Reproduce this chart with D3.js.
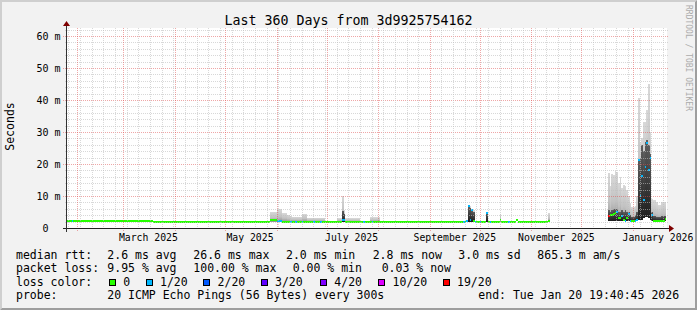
<!DOCTYPE html>
<html lang="en">
<head>
<meta charset="utf-8">
<title>Last 360 Days from 3d9925754162</title>
<script src="https://d3js.org/d3.v7.min.js"></script>
<style>
  body { margin: 0; background: #f2f2f2; }
  svg { display: block; font-family: "DejaVu Sans Mono", monospace; }
</style>
</head>
<body>
<svg width="697" height="310"></svg>
<script>
// ---- values ----
const graphEnd = "2026-01-20T19:40:45";
const spanDays = 360;

// step rows: each one holds from its start until the next row starts
const rowStart = [
  "2025-01-25T19:40", "2025-01-29", "2025-01-30", "2025-03-01", "2025-03-19", "2025-05-28", "2025-06-01", "2025-06-04", "2025-06-07", "2025-06-09",
  "2025-06-10", "2025-06-12", "2025-06-13", "2025-06-16", "2025-06-17", "2025-06-19", "2025-06-23", "2025-06-24", "2025-06-27", "2025-06-28",
  "2025-06-30", "2025-07-07", "2025-07-10T12:00", "2025-07-11T12:00", "2025-07-12", "2025-07-21", "2025-07-23", "2025-07-24", "2025-07-27", "2025-07-28",
  "2025-07-29", "2025-08-02", "2025-09-21", "2025-09-22", "2025-09-23", "2025-09-24", "2025-09-25", "2025-09-26", "2025-09-27", "2025-09-28",
  "2025-09-29", "2025-10-01", "2025-10-02", "2025-10-05", "2025-10-06", "2025-10-07", "2025-10-08", "2025-10-13", "2025-10-14", "2025-10-18",
  "2025-10-19", "2025-10-23", "2025-10-24", "2025-11-11", "2025-11-12", "2025-12-17", "2025-12-18", "2025-12-19", "2025-12-20", "2025-12-21",
  "2025-12-22", "2025-12-23", "2025-12-24", "2025-12-25", "2025-12-26", "2025-12-27", "2025-12-28", "2025-12-29", "2025-12-30", "2025-12-31",
  "2026-01-01", "2026-01-02", "2026-01-03", "2026-01-04", "2026-01-05", "2026-01-06", "2026-01-07", "2026-01-08", "2026-01-09", "2026-01-10",
  "2026-01-11", "2026-01-12", "2026-01-13", "2026-01-14", "2026-01-15", "2026-01-16", "2026-01-17", "2026-01-18", "2026-01-19", "2026-01-20"
];
// median rtt in ms (null = no data)
const medianMs = [
  2.25, 2.25, 2.25, 2.1, 2.0, 2.6, 2.3, 2.0, 2.0, 2.0,
  2.0, 2.0, 2.0, 2.0, 2.0, 2.0, 2.0, 2.0, 2.0, 2.0,
  2.0, 2.0, 2.5, 2.5, 2.0, 2.0, 2.0, 2.0, 2.0, 2.0,
  2.0, 2.0, 2.0, 2.0, 2.2, 6.8, 2.4, 5.7, 2.3, 2.0,
  2.0, 2.0, 2.0, 4.8, 2.0, 2.0, 2.0, 2.6, 2.0, 2.0,
  2.0, 2.5, 2.0, 2.3, null, 3.7, 4.0, 4.1, 4.4, 4.7,
  5.1, 3.0, 3.0, 3.8, 2.4, 2.2, 3.0, 4.4, 2.3, 2.2,
  2.2, 2.3, 2.5, 21.2, 10.0, 16.3, 8.7, 19.0, 26.5, 18.0,
  21.8, 4.0, 2.2, 2.2, 2.2, 2.2, 2.2, 2.2, 2.2, 2.8
];
// lost pings out of 20
const lossOf20 = [
  0, 1, 0, 0, 0, 0, 1, 0, 0, 1,
  0, 1, 0, 1, 0, 0, 1, 0, 1, 0,
  0, 0, 1, 1, 0, 0, 1, 0, 0, 1,
  0, 0, 1, 0, 1, 1, 1, 1, 0, 1,
  0, 1, 0, 1, 0, 1, 0, 0, 0, 1,
  0, 0, 0, 0, null, 19, 0, 0, 0, 0,
  1, 0, 0, 1, 0, 1, 0, 1, 1, 0,
  0, 1, 1, 1, 1, 1, 1, 1, 1, 1,
  1, 1, 0, 0, 0, 0, 0, 0, 0, 0
];
// smoke: fastest ping, top of the dense band, slowest ping (ms)
const smokeMinMs = [
  null, null, null, null, null, 2.0, 2.0, 2.0, 2.0, 2.0,
  2.0, 2.0, 2.0, 2.0, 2.0, 2.0, 2.0, 2.0, 2.0, 2.0,
  null, 2.0, 2.0, 2.0, 2.0, null, null, null, 2.0, 2.0,
  2.0, null, null, null, null, 2.0, 2.0, 2.0, 2.0, null,
  null, null, null, 2.0, null, null, null, 2.0, null, null,
  null, null, null, 2.0, null, 2.3, 2.3, 2.3, 2.3, 2.3,
  2.3, 2.3, 2.3, 2.3, 2.3, 2.2, 2.2, 2.2, 2.2, 2.2,
  2.2, 2.2, 2.2, 2.5, 2.5, 2.5, 3.0, 3.5, 3.5, 3.0,
  2.5, 2.2, 2.2, 2.2, 2.2, 2.2, 2.2, 2.2, 2.2, 2.2
];
const smokeCoreMs = [
  null, null, null, null, null, null, null, null, null, null,
  null, null, null, null, null, null, null, null, null, null,
  null, null, 5.4, 4.5, null, null, null, null, null, null,
  null, null, null, null, null, 6.5, 6.3, 5.5, 5.0, null,
  null, null, null, 4.7, null, null, null, null, null, null,
  null, null, null, null, null, 5.5, 5.0, 5.5, 6.0, 6.0,
  6.0, 5.0, 5.0, 5.5, 5.0, 5.5, 5.0, 5.0, 4.0, 3.5,
  3.5, 4.0, 5.0, 21.5, 22.0, 26.0, 24.0, 27.0, 27.5, 26.0,
  23.0, 5.0, 3.8, 3.8, 3.5, 3.5, 3.5, 3.8, 3.8, 3.8
];
const smokeMaxMs = [
  null, null, null, null, null, 5.1, 5.8, 4.6, 4.1, 3.6,
  3.5, 3.5, 3.5, 4.4, 4.4, 3.2, 3.2, 3.2, 3.2, 3.2,
  null, 3.0, 10.0, 5.5, 3.0, null, null, null, 3.3, 3.3,
  3.3, null, null, null, null, 7.0, 6.8, 5.9, 5.5, null,
  null, null, null, 5.0, null, null, null, 4.3, null, null,
  null, null, null, 4.6, null, 17.3, 13.0, 17.0, 16.5, 17.8,
  17.6, 14.0, 16.0, 12.4, 13.4, 13.0, 11.9, 10.0, 7.7, 6.7,
  6.5, 7.0, 10.0, 40.7, 27.0, 28.0, 33.0, 33.0, 37.0, 45.0,
  30.0, 9.0, 8.7, 8.7, 8.0, 7.2, 7.2, 8.2, 8.2, 8.2
];

const yTicksMs = [0, 10, 20, 30, 40, 50, 60];
const rttStats = ["2.6 ms avg", "26.6 ms max", "2.0 ms min", "2.8 ms now", "3.0 ms sd", "865.3 m am/s"];
const lossStats = ["9.95 % avg", "100.00 % max", "0.00 % min", "0.03 % now"];
const lossSteps = [0, 1, 2, 3, 4, 10, 19];
const lossNames = ["0", "1/20", "2/20", "3/20", "4/20", "10/20", "19/20"];
const lossColors = ["#26ff00", "#00b8ff", "#0059ff", "#5e00ff", "#7e00ff", "#dd00ff", "#ff0000"];
const probeText = "20 ICMP Echo Pings (56 Bytes) every 300s";
const endText = "end: Tue Jan 20 19:40:45 2026";

// ---- drawing ----
const svg = d3.select("svg");
const width = +svg.attr("width");
const height = +svg.attr("height");
const plot = { left: 67, right: 667, top: 28, bottom: 228 };

const toDate = s => new Date(s.length === 10 ? s + "T00:00:00Z" : s + ":00Z");
const end = new Date(graphEnd + "Z");
const start = d3.utcDay.offset(end, -spanDays);

const rows = rowStart.map((s, i) => ({
  t0: toDate(s),
  t1: i + 1 < rowStart.length ? toDate(rowStart[i + 1]) : end,
  med: medianMs[i], loss: lossOf20[i],
  lo: smokeMinMs[i], core: smokeCoreMs[i], hi: smokeMaxMs[i]
})).filter(r => r.med != null);

const x = d3.scaleUtc().domain([start, end]).range([66.5, 666]).clamp(true);
const y = d3.scaleLinear().domain([0, 62.5]).range([plot.bottom, plot.top]);
const lossColor = d3.scaleThreshold().domain(lossSteps.slice(1)).range(lossColors);
const px = t => Math.round(x(t));
const snap = v => Math.round(v) + 0.5;

// background + 3d frame
svg.append("rect").attr("width", width).attr("height", height).attr("fill", "#f2f2f2");
svg.append("polygon")
  .attr("points", `0,0 ${width},0 ${width - 2},2 2,2 2,${height - 2} 0,${height}`)
  .attr("fill", "#cfcfcf");
svg.append("polygon")
  .attr("points", `${width},0 ${width},${height} 0,${height} 2,${height - 2} ${width - 2},${height - 2} ${width - 2},2`)
  .attr("fill", "#9e9e9e");
svg.append("rect")
  .attr("x", plot.left).attr("y", plot.top)
  .attr("width", plot.right - plot.left).attr("height", plot.bottom - plot.top)
  .attr("fill", "#fff");

const defs = svg.append("defs");
const grad = (id, stops) => {
  const g = defs.append("linearGradient").attr("id", id)
    .attr("x1", 0).attr("y1", 0).attr("x2", 0).attr("y2", 1);
  stops.forEach(([o, c]) => g.append("stop").attr("offset", o).attr("stop-color", c));
};
grad("smokeFill", [[0, "#d8d8d8"], [0.6, "#c2c2c2"], [1, "#939393"]]);
grad("coreFill", [[0, "#5e5e5e"], [1, "#1e1e1e"]]);

const dataG = svg.append("g").attr("shape-rendering", "crispEdges");

dataG.selectAll("rect.smoke")
  .data(rows.filter(r => r.hi != null))
  .join("rect")
  .attr("class", "smoke")
  .attr("x", r => px(r.t0))
  .attr("width", r => Math.max(1, px(r.t1) - px(r.t0)))
  .attr("y", r => y(r.hi))
  .attr("height", r => y(r.lo) - y(r.hi))
  .attr("fill", "url(#smokeFill)");

dataG.selectAll("rect.core")
  .data(rows.filter(r => r.core != null))
  .join("rect")
  .attr("class", "core")
  .attr("x", r => px(r.t0))
  .attr("width", r => Math.max(1, px(r.t1) - px(r.t0)))
  .attr("y", r => y(r.core))
  .attr("height", r => y(r.lo) - y(r.core))
  .attr("fill", "url(#coreFill)");

dataG.selectAll("rect.median")
  .data(rows)
  .join("rect")
  .attr("class", "median")
  .attr("x", r => px(r.t0))
  .attr("width", r => Math.max(1, px(r.t1) - px(r.t0)))
  .attr("y", r => y(r.med) - 1)
  .attr("height", 2)
  .attr("fill", r => lossColor(r.loss));

// grid (rrdtool paints it over the data, half transparent)
const gridG = svg.append("g").attr("fill", "none").attr("stroke-dasharray", "1,1");
const minorColor = "rgba(190,190,190,0.6)";
const majorColor = "rgba(224,80,80,0.5)";

gridG.selectAll("line.hmin")
  .data(d3.range(2, 63, 2).filter(v => v % 10 !== 0))
  .join("line")
  .attr("x1", plot.left - 2).attr("x2", plot.right + 2)
  .attr("y1", v => snap(y(v))).attr("y2", v => snap(y(v)))
  .attr("stroke", minorColor);

gridG.selectAll("line.hmaj")
  .data(yTicksMs.filter(v => v > 0))
  .join("line")
  .attr("x1", plot.left - 4).attr("x2", plot.right + 2)
  .attr("y1", v => snap(y(v))).attr("y2", v => snap(y(v)))
  .attr("stroke", majorColor);

const monthStarts = d3.utcMonth.range(start, end);
const mondays = d3.utcMonday.range(start, end).filter(d => d.getUTCDate() !== 1);

gridG.selectAll("line.vmin")
  .data(mondays)
  .join("line")
  .attr("x1", d => snap(x(d))).attr("x2", d => snap(x(d)))
  .attr("y1", plot.top).attr("y2", plot.bottom + 2)
  .attr("stroke", minorColor);

gridG.selectAll("line.vmaj")
  .data(monthStarts)
  .join("line")
  .attr("x1", d => snap(x(d))).attr("x2", d => snap(x(d)))
  .attr("y1", plot.top).attr("y2", plot.bottom + 3)
  .attr("stroke", majorColor);

// axes and arrows
svg.append("line")
  .attr("x1", plot.left - 4).attr("x2", plot.right + 4)
  .attr("y1", plot.bottom + 0.5).attr("y2", plot.bottom + 0.5)
  .attr("stroke", "#222");
svg.append("line")
  .attr("x1", plot.left - 0.5).attr("x2", plot.left - 0.5)
  .attr("y1", plot.bottom + 4).attr("y2", plot.top - 4)
  .attr("stroke", "#333");
svg.append("polygon")
  .attr("points", `${plot.right + 2},${plot.bottom - 3} ${plot.right + 2},${plot.bottom + 4} ${plot.right + 7},${plot.bottom + 0.5}`)
  .attr("fill", "#7f0000");
svg.append("polygon")
  .attr("points", `${plot.left - 4},${plot.top - 2} ${plot.left + 3},${plot.top - 2} ${plot.left - 0.5},${plot.top - 7}`)
  .attr("fill", "#7f0000");

// y tick labels
const yLab = svg.append("g").attr("font-size", 10).attr("fill", "#000");
yLab.selectAll("text.num")
  .data(yTicksMs)
  .join("text")
  .attr("x", 48.6).attr("y", v => y(v) + 3.6)
  .attr("text-anchor", "end")
  .text(v => v);
yLab.selectAll("text.unit")
  .data(yTicksMs.filter(v => v > 0))
  .join("text")
  .attr("x", 54.6).attr("y", v => y(v) + 3.6)
  .text("m");

// x labels, centred half a month after the month start
const fmtMonth = d3.utcFormat("%B %Y");
svg.append("g").attr("font-size", 9.8).attr("fill", "#000")
  .selectAll("text")
  .data(d3.utcMonth.every(2).range(start, end))
  .join("text")
  .attr("x", d => x(d3.utcDay.offset(d, 15)))
  .attr("y", 240.6)
  .attr("text-anchor", "middle")
  .text(fmtMonth);

// titles
svg.append("text")
  .attr("x", width / 2).attr("y", 24.6)
  .attr("text-anchor", "middle")
  .attr("font-size", 13.3)
  .text("Last 360 Days from 3d9925754162");

svg.append("text")
  .attr("transform", "translate(13.5,126.5) rotate(-90)")
  .attr("text-anchor", "middle")
  .attr("font-size", 11.5)
  .text("Seconds");

svg.append("text")
  .attr("transform", "translate(685.5,5) rotate(90)")
  .attr("font-size", 8)
  .attr("fill", "#ababab")
  .text("RRDTOOL / TOBI OETIKER");

// legend
const legend = svg.append("g").attr("font-size", 11.5).attr("fill", "#000");
const lineY = [259, 272.3, 286.4, 299];
const addText = (tx, ty, s) => legend.append("text").attr("x", tx).attr("y", ty).text(s);

addText(16, lineY[0], "median rtt:");
[107.3, 193.3, 286, 372.7, 458.3, 537.3].forEach((tx, i) => addText(tx, lineY[0], rttStats[i]));

addText(16, lineY[1], "packet loss:");
[107.3, 193.3, 292.7, 381.7].forEach((tx, i) => addText(tx, lineY[1], lossStats[i]));

addText(16, lineY[2], "loss color:");
const boxX = [109, 145.7, 203.3, 260.7, 320, 378.3, 442.7];
legend.selectAll("rect.box")
  .data(lossSteps)
  .join("rect")
  .attr("x", (d, i) => Math.round(boxX[i]) + 0.5)
  .attr("y", 279.5)
  .attr("width", 6).attr("height", 6)
  .attr("fill", d => lossColor(d))
  .attr("stroke", "#000");
lossNames.forEach((s, i) => addText(boxX[i] + 14.3, lineY[2], s));

addText(16, lineY[3], "probe:");
addText(107.3, lineY[3], probeText);
addText(478.3, lineY[3], endText);
</script>
</body>
</html>
